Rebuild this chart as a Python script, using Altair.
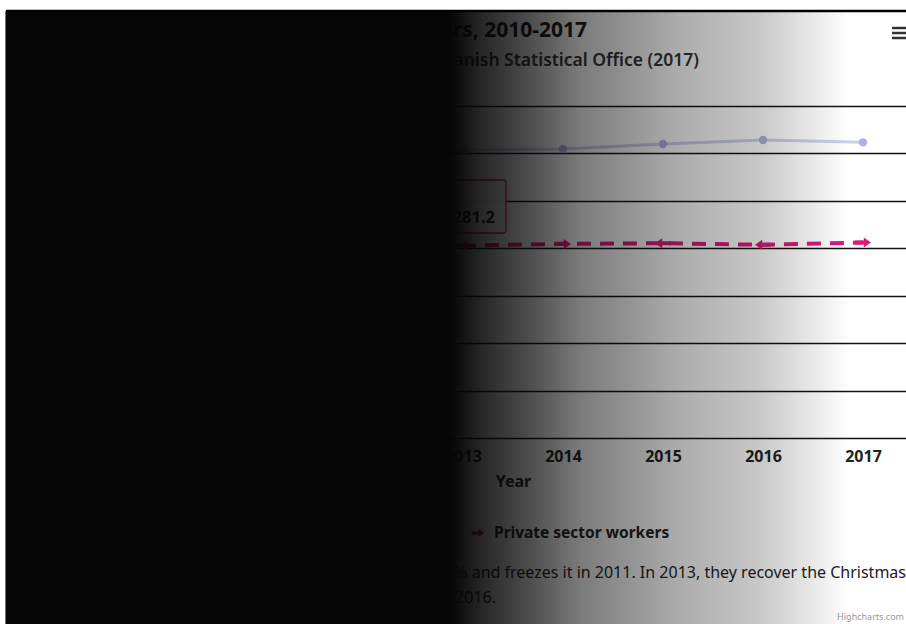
import altair as alt
import pandas as pd

# ---------------- data ----------------
years = [2010, 2011, 2012, 2013, 2014, 2015, 2016, 2017]
public_sector = [31800, 31100, 30300, 30355, 30460, 30990, 31410, 31170]
private_sector = [19950, 20150, 20080, 20281.2, 20460, 20535, 20370, 20610]
private_arrow = ["right", "left", "right", "right", "right", "left", "left", "right"]
y_ticks = [0, 5000, 10000, 15000, 20000, 25000, 30000, 35000]

series_names = ["Public sector workers", "Private sector workers"]
title_text = "Salaries of public and private workers, 2010-2017"
subtitle_text = "Source: Spanish Statistical Office (2017)"
caption_line1 = "The government cuts public workers' salaries by 5% and freezes it in 2011. In 2013, they recover the Christmas"
caption_line2 = "bonus, and salaries rise slightly in 2014, 2015 and 2016."
credits_text = "Highcharts.com"
tooltip_year = 2013

rows = []
for i, y in enumerate(years):
    rows.append({"year": y, "series": series_names[0], "value": public_sector[i], "arrow": "none"})
    rows.append({"year": y, "series": series_names[1], "value": private_sector[i], "arrow": private_arrow[i]})
df = pd.DataFrame(rows)
one = pd.DataFrame({"k": [0]})

FONT = "Noto Sans"
PUB_LINE = "#cdd0ec"
PUB_MARK = "#aeb2de"
PRIV = "#dc1a78"
RIGHT = "M-1,-0.26L0.1,-0.26L0.1,-0.62L1,0L0.1,0.62L0.1,0.26L-1,0.26Z"
LEFT = "M1,-0.26L-0.1,-0.26L-0.1,-0.62L-1,0L-0.1,0.62L-0.1,0.26L1,0.26Z"

W, H = 793, 332
OX, OY = 113, 106  # plot origin in page pixels

xenc = alt.X("year:Q",
             scale=alt.Scale(domain=[2009.5, 2017.43], nice=False, zero=False),
             axis=alt.Axis(values=years, format="d", grid=False, ticks=False, domain=False,
                           labelFont=FONT, labelFontSize=16, labelFontWeight="bold",
                           labelColor="#222222", labelPadding=10,
                           title="Year", titleFont=FONT, titleFontSize=16, titleFontWeight="bold",
                           titleColor="#222222", titlePadding=9, titleX=400, zindex=0))
yenc = alt.Y("value:Q",
             scale=alt.Scale(domain=[0, 35000], nice=False),
             axis=alt.Axis(values=y_ticks, grid=True, gridColor="#111111", gridWidth=1.4,
                           ticks=False, domain=False, labelFont=FONT, labelFontSize=14,
                           labelColor="#333333", labelPadding=12,
                           title="Euros", titleFont=FONT, titleFontSize=15, titleColor="#333333",
                           zindex=0))

base = alt.Chart(df)
pub = base.transform_filter(alt.datum.series == series_names[0])
priv = base.transform_filter(alt.datum.series == series_names[1])

pub_line = pub.mark_line(color=PUB_LINE, strokeWidth=3).encode(x=xenc, y=yenc)
pub_pts = pub.mark_circle(color=PUB_MARK, size=70, opacity=1).encode(x="year:Q", y="value:Q")
priv_line = priv.mark_line(color=PRIV, strokeWidth=4, strokeDash=[14, 9]).encode(x="year:Q", y="value:Q")
priv_pts = priv.mark_point(filled=True, color=PRIV, opacity=1, size=256).encode(
    x="year:Q", y="value:Q",
    shape=alt.Shape("arrow:N", scale=alt.Scale(domain=["right", "left"], range=[RIGHT, LEFT]), legend=None))

# tooltip
tip_box = alt.Chart(one).mark_rect(fill="white", fillOpacity=0.9, stroke=PRIV, strokeWidth=1.3,
                                   cornerRadius=3, clip=False).encode(
    x=alt.value(205 - OX), x2=alt.value(506 - OX), y=alt.value(180 - OY), y2=alt.value(233 - OY))
tip_data = priv.transform_filter(alt.datum.year == tooltip_year)
tip_head = tip_data.mark_text(font=FONT, fontSize=12, align="left", baseline="middle",
                              color="#333333", clip=False).encode(
    x=alt.value(215 - OX), y=alt.value(196 - OY), text=alt.Text("year:Q", format="d"))
tip_val = tip_data.transform_calculate(
    label="datum.series + ': ' + replace(format(datum.value, ',.1f'), ',', ' ')"
).mark_text(font=FONT, fontSize=16.5, fontWeight="bold", align="right", baseline="middle",
            color="#222222", clip=False).encode(
    x=alt.value(495 - OX), y=alt.value(218 - OY), text="label:N")

def txt(s, x, y, size, weight="normal", align="left", color="#222222"):
    return alt.Chart(one).mark_text(text=s, font=FONT, fontSize=size, fontWeight=weight,
                                    align=align, baseline="middle", color=color, clip=False).encode(
        x=alt.value(x - OX), y=alt.value(y - OY))

title = txt(title_text, 587, 31, 21, "bold", "right", "#1a1a1a")
subtitle = txt(subtitle_text, 699, 61, 17.5, 600, "right", "#333333")
leg_pub_mark = alt.Chart(one).mark_circle(color=PUB_MARK, size=64, opacity=1, clip=False).encode(
    x=alt.value(262 - OX), y=alt.value(533 - OY))
leg_pub = txt(series_names[0], 275, 533, 15.5, "bold", "left", "#222222")
leg_priv_mark = alt.Chart(one).mark_point(shape=RIGHT, filled=True, color=PRIV, opacity=1,
                                          size=160, clip=False).encode(
    x=alt.value(478 - OX), y=alt.value(533 - OY))
leg_priv = txt(series_names[1], 494, 533, 15.5, "bold", "left", "#222222")
cap1 = txt(caption_line1, 906, 573, 16, "normal", "right", "#222222")
cap2 = txt(caption_line2, 496, 598, 16, "normal", "right", "#222222")
credits = txt(credits_text, 904, 617, 9, "normal", "right", "#999999")

menu = alt.Chart(pd.DataFrame({"yy": [28 - OY, 33 - OY, 38 - OY]})).mark_rule(
    color="#333333", strokeWidth=2.5, clip=False).encode(
    x=alt.value(892 - OX), x2=alt.value(912 - OX), y=alt.Y("yy:Q", scale=None))

top_line = alt.Chart(one).mark_rule(color="#000000", strokeWidth=2.5, clip=False).encode(
    x=alt.value(6 - OX), x2=alt.value(906 - OX), y=alt.value(11 - OY))
left_line = alt.Chart(one).mark_rule(color="#777777", strokeWidth=1, clip=False).encode(
    x=alt.value(5.5 - OX), y=alt.value(11 - OY), y2=alt.value(624 - OY))

stops = [(450, 1.0), (480, 0.87), (530, 0.71), (580, 0.53), (680, 0.33), (760, 0.22), (800, 0.12), (850, 0.0)]
grad = alt.LinearGradient(
    gradient="linear", x1=0, x2=1, y1=0, y2=0,
    stops=[alt.GradientStop(color=f"rgba(5,5,5,{a})", offset=round((px - 6) / 900, 4)) for px, a in stops])
overlay = alt.Chart(one).mark_rect(color=grad, clip=False).encode(
    x=alt.value(6 - OX), x2=alt.value(906 - OX), y=alt.value(12 - OY), y2=alt.value(624 - OY))

chart = alt.layer(
    pub_line, pub_pts, priv_line, priv_pts,
    tip_box, tip_head, tip_val,
    title, subtitle, leg_pub_mark, leg_pub, leg_priv_mark, leg_priv, cap1, cap2, credits, menu,
    overlay, top_line, left_line,
).properties(
    width=W, height=H,
    autosize=alt.AutoSizeParams(type="none"),
    padding={"left": OX, "top": OY, "right": 0, "bottom": 624 - OY - H},
    background="white",
).configure_view(stroke=None)

chart.save("out.html", embed_options={"renderer": "svg", "actions": False})
